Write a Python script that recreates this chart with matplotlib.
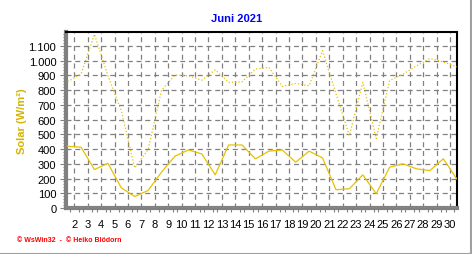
import numpy as np
import matplotlib
matplotlib.use('Agg')
import matplotlib.pyplot as plt
from matplotlib.lines import Line2D
from matplotlib.ticker import FuncFormatter, MultipleLocator

# daily values for June 2021 (one point per day, drawn at midday)
days = np.arange(1, 31)
solar_avg = [419, 413, 261, 304, 137, 78, 119, 244, 352, 394, 367, 225, 428, 428, 334,
             386, 394, 311, 386, 340, 124, 131, 225, 97, 277, 300, 266, 254, 334, 198]
solar_max = [858, 909, 1180, 900, 660, 272, 396, 800, 902, 898, 868, 938, 853, 857, 943,
             955, 826, 846, 830, 1068, 775, 492, 853, 472, 865, 909, 965, 1015, 992, 958]
tick_days = list(range(2, 31))
y_ticks = list(range(0, 1101, 100))

yellow = '#e6c200'
grey = '#808080'

plt.rcParams['font.family'] = ['Liberation Sans', 'DejaVu Sans']

fig = plt.figure(figsize=(4.72, 2.55), dpi=100)
ax = fig.add_axes([66/472, 1-209/255, 391/472, 176/255])

x = days + 0.5
ax.plot(x, solar_max, color=yellow, lw=0.9, linestyle=(0, (1, 1.6)), zorder=3)
ax.plot(x, solar_avg, color=yellow, lw=0.9, zorder=3)
ax.axhline(0, color=yellow, lw=1, linestyle=(0, (1, 1.5)), zorder=4)

ax.set_xlim(1.38, 30.52)
ax.set_ylim(0, 1195)
ax.set_xticks(tick_days)
ax.set_xticklabels([str(d) for d in tick_days])
ax.set_yticks(y_ticks)
ax.yaxis.set_major_formatter(FuncFormatter(lambda v, p: f'{int(v):,}'.replace(',', '.')))
ax.xaxis.set_minor_locator(MultipleLocator(1/3))
ax.yaxis.set_minor_locator(MultipleLocator(20))

ax.grid(True, which='major', color=grey, lw=0.9, linestyle=(0, (4, 3)))
ax.tick_params(axis='x', which='major', length=0, pad=8, labelsize=8)
ax.tick_params(axis='x', which='minor', length=3, color=grey, width=0.8)
ax.tick_params(axis='y', which='major', length=4, color=grey, width=0.8, pad=3, labelsize=8)
ax.tick_params(axis='y', which='minor', length=2, color=grey, width=0.8)

ax.spines['left'].set_color(grey)
ax.spines['left'].set_linewidth(3)
ax.spines['bottom'].set_color(grey)
ax.spines['bottom'].set_linewidth(3)
ax.spines['top'].set_color('black')
ax.spines['top'].set_linewidth(1.5)
ax.spines['right'].set_color('black')
ax.spines['right'].set_linewidth(1.5)

fig.text(237/472, 1-19/255, 'Juni 2021', color='#0000ff', fontsize=8, fontweight='bold',
         ha='center', va='center')
fig.text(22/472, 1-121/255, 'Solar (W/m²)', color='#d4b400', fontsize=8, fontweight='bold',
         rotation=90, ha='center', va='center')
fig.text(17/472, 1-241/255, '© WsWin32  -  © Heiko Blödorn', color='#ff0000', fontsize=5,
         fontweight='bold', ha='left', va='center')

# grey frame on bottom and right edges
fig.add_artist(Line2D([0, 1], [0.5/255, 0.5/255], transform=fig.transFigure, color='#a0a0a0', lw=1.5))
fig.add_artist(Line2D([1-1.5/472, 1-1.5/472], [0, 1], transform=fig.transFigure, color='#a0a0a0', lw=1.5))

fig.savefig('out.png', dpi=100)
